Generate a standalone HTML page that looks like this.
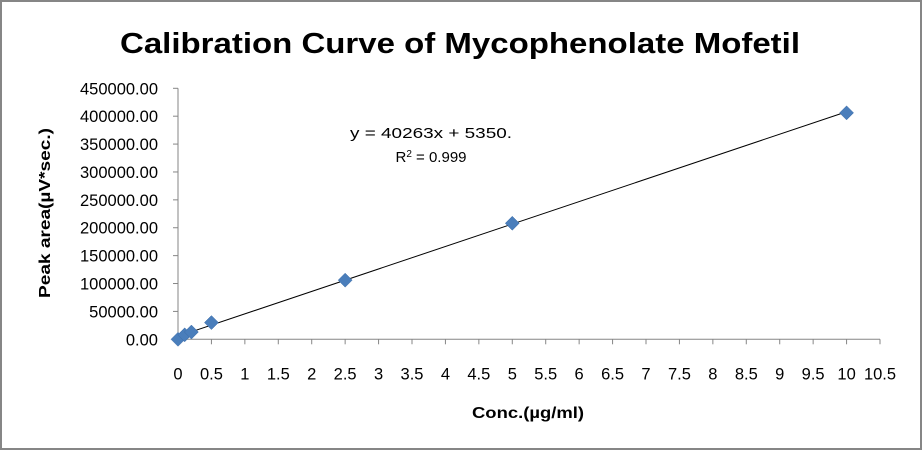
<!DOCTYPE html>
<html><head><meta charset="utf-8"><style>
html,body{margin:0;padding:0;background:#fff}
svg{display:block;font-family:"Liberation Sans",sans-serif}
</style></head><body>
<svg id="chart" width="923" height="451" viewBox="0 0 923 451">
<rect x="1" y="1" width="920" height="448" fill="#fff" stroke="#868686" stroke-width="2"/>
<text x="460" y="53" text-anchor="middle" font-size="29" font-weight="bold" textLength="680" lengthAdjust="spacingAndGlyphs">Calibration Curve of Mycophenolate Mofetil</text>
<text transform="translate(50,213) rotate(-90)" text-anchor="middle" font-size="16" font-weight="bold" textLength="170" lengthAdjust="spacingAndGlyphs">Peak area(µV*sec.)</text>
<text x="528" y="418" text-anchor="middle" font-size="16" font-weight="bold" textLength="112" lengthAdjust="spacingAndGlyphs">Conc.(µg/ml)</text>
<text x="431" y="138" text-anchor="middle" font-size="15" textLength="162" lengthAdjust="spacingAndGlyphs">y = 40263x + 5350.</text>
<text x="431" y="162" text-anchor="middle" font-size="15">R<tspan font-size="10" dy="-5">2</tspan><tspan dy="5"> = 0.999</tspan></text>
<g id="axes"></g>
<g id="marks"></g>
</svg>
<script>
const xTicks=[0,0.5,1,1.5,2,2.5,3,3.5,4,4.5,5,5.5,6,6.5,7,7.5,8,8.5,9,9.5,10,10.5];
const yTicks=[0,50000,100000,150000,200000,250000,300000,350000,400000,450000];
const concentrations=[0,0.1,0.2,0.5,2.5,5,10];
const peakAreas=[0,8000,13000,30000,106000,208000,406000];
const slope=40263, intercept=5350;
const X0=178,X1=880,Y0=339.3,Y1=88.3;
const sx=v=>X0+(v/10.5)*(X1-X0);
const sy=v=>Y0-(v/450000)*(Y0-Y1);
const NS='http://www.w3.org/2000/svg';
const ax=document.getElementById('axes'), mk=document.getElementById('marks');
function mkEl(t,a,p){const e=document.createElementNS(NS,t);for(const k in a)e.setAttribute(k,a[k]);p.appendChild(e);return e;}
let l=mkEl('line',{x1:X0,y1:Y1,x2:X0,y2:Y0,stroke:'#868686'},ax);


l=mkEl('line',{x1:X0,y1:Y0,x2:X1,y2:Y0,stroke:'#868686'},ax);


yTicks.forEach(v=>{
 const y=sy(v);
 mkEl('line',{x1:X0-5,y1:y,x2:X0,y2:y,stroke:'#868686'},ax);
 const t=mkEl('text',{x:X0-20,y:y+6,'text-anchor':'end','font-size':'16.5'},ax);
 t.textContent=v.toFixed(2);
 
 
});
xTicks.forEach(v=>{
 const x=sx(v);
 mkEl('line',{x1:x,y1:Y0,x2:x,y2:Y0+5,stroke:'#868686'},ax);
 const t=mkEl('text',{x:x,y:Y0+40,'text-anchor':'middle','font-size':'16.5'},ax);
 t.textContent=String(v);
 
 
});
const tl=mkEl('line',{x1:sx(0),y1:sy(intercept),x2:sx(10),y2:sy(slope*10+intercept),stroke:'#000','stroke-width':1},mk);


concentrations.forEach((c,i)=>{
 const x=sx(c),y=sy(peakAreas[i]),r=7;
 const p=mkEl('polygon',{points:`${x},${y-r} ${x+r},${y} ${x},${y+r} ${x-r},${y}`,fill:'#4a7ebb',stroke:'#3c6ca8','stroke-width':0.5},mk);
 
 
});
</script>
</body></html>
